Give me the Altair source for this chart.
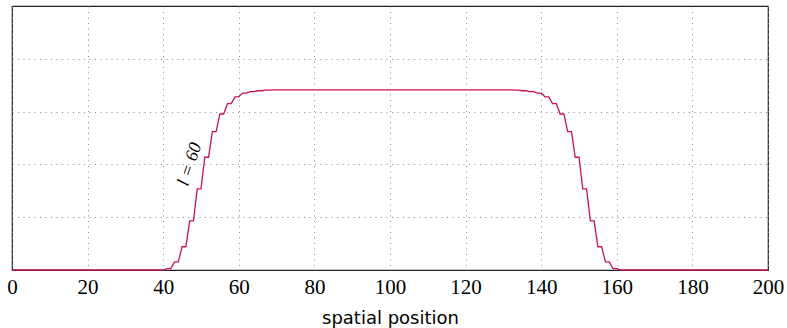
import altair as alt
import pandas as pd

# Sampled profile along the spatial axis (flat stretches given by their end points)
positions = [0, 40, 41, 42, 43, 44, 45, 46, 47, 48, 49, 50, 51, 52, 53, 54, 55, 56,
             57, 58, 59, 60, 61, 62, 63, 64, 65, 66, 67, 68, 69,
             132, 133, 134, 135, 136, 137, 138, 139, 140, 141, 142, 143, 144, 145,
             146, 147, 148, 149, 150, 151, 152, 153, 154, 155, 156, 157, 158, 159,
             160, 161, 200]
values = [0.0, 0.0, 0.005, 0.005, 0.031, 0.031, 0.088, 0.088, 0.186, 0.186, 0.307,
          0.307, 0.427, 0.427, 0.524, 0.524, 0.591, 0.591, 0.630, 0.630, 0.656, 0.656,
          0.670, 0.670, 0.676, 0.676, 0.679, 0.679, 0.681, 0.681, 0.682,
          0.682, 0.681, 0.681, 0.679, 0.679, 0.676, 0.676, 0.670, 0.670, 0.656, 0.656,
          0.630, 0.630, 0.591, 0.591, 0.524, 0.524, 0.427, 0.427, 0.307, 0.307,
          0.186, 0.186, 0.088, 0.088, 0.031, 0.031, 0.005, 0.005, 0.0, 0.0]

x_ticks = [0, 20, 40, 60, 80, 100, 120, 140, 160, 180, 200]
y_grid = [0.2, 0.4, 0.6, 0.8]

label_text = ["l = 60"]
label_x = [47.1]
label_y = [0.40]

profile = pd.DataFrame({"pos": positions, "val": values})
labels = pd.DataFrame({"pos": label_x, "val": label_y, "text": label_text})

grid_style = dict(grid=True, gridColor="#8a8a8a", gridDash=[1, 4.5], gridWidth=1)

x_enc = alt.X(
    "pos:Q",
    scale=alt.Scale(domain=[0, 200], nice=False, zero=False),
    axis=alt.Axis(
        values=x_ticks,
        title="spatial position",
        labelFont="Liberation Serif",
        labelFontSize=21,
        labelColor="#000",
        labelPadding=6,
        labelFlush=False,
        ticks=False,
        domain=False,
        titleFont="DejaVu Sans",
        titleFontSize=18,
        titleFontWeight="normal",
        titleColor="#000",
        titlePadding=12,
        **grid_style,
    ),
)
y_enc = alt.Y(
    "val:Q",
    scale=alt.Scale(domain=[0, 1], nice=False),
    axis=alt.Axis(
        values=y_grid,
        labels=False,
        ticks=False,
        domain=False,
        title=None,
        **grid_style,
    ),
)

line = alt.Chart(profile).mark_line(color="#c8144e", strokeWidth=1.3).encode(
    x=x_enc, y=y_enc
)

text = alt.Chart(labels).mark_text(
    angle=288,
    font="Liberation Serif",
    fontStyle="italic",
    fontSize=18,
    color="#000",
    align="center",
    baseline="middle",
).encode(x="pos:Q", y="val:Q", text="text:N")

chart = (
    alt.layer(line, text)
    .properties(
        width=756,
        height=264,
        padding={"left": 12, "top": 6, "right": 19, "bottom": 58},
        autosize=alt.AutoSizeParams(type="none"),
    )
    .configure_view(stroke="#222", strokeWidth=1.2)
)

chart.save("out.html", embed_options={"renderer": "svg", "actions": False})
